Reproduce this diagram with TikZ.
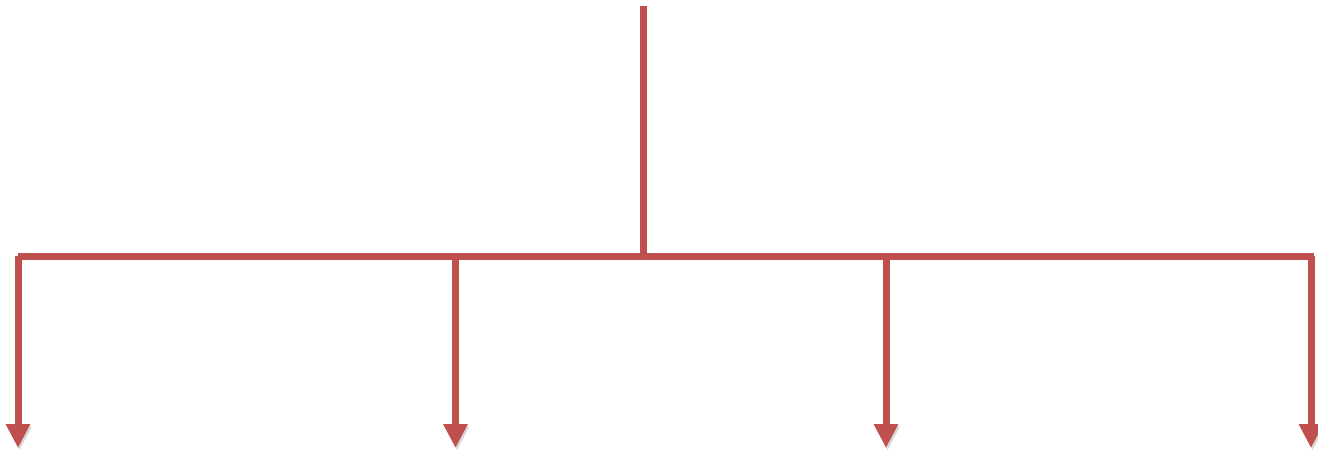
\documentclass[tikz,border=0pt]{standalone}
\usepackage{tikz}
\usetikzlibrary{arrows.meta, positioning, calc}

\definecolor{branchred}{RGB}{192,80,77}

\begin{document}
\begin{tikzpicture}[
      x=1pt, y=-1pt,
      shadowed/.style={preaction={draw=black!45, opacity=0.35,
                       transform canvas={shift={(1.5pt,-2.5pt)}}}},
      link/.style={draw=branchred, line width=7pt, shadowed},
      arr/.style={link, -{Triangle[length=24pt, width=23pt]}}
    ]
    \useasboundingbox (0,0) rectangle (1318,456);

    % trunk and the bar it feeds
    \coordinate (root)  at (643,6);
    \coordinate (hub)   at (643,256);
    \coordinate (barl)  at (18,256);
    \coordinate (barr)  at (1314,256);

    % where the branches leave the bar, and where they point
    \coordinate (b1) at (18,256);    \coordinate (t1) at (18,448);
    \coordinate (b2) at (455.5,256); \coordinate (t2) at (455.5,448);
    \coordinate (b3) at (886,256);   \coordinate (t3) at (886,448);
    \coordinate (b4) at (1311,256);  \coordinate (t4) at (1311,448);

    \draw[link] (barl) -- (barr);
    \draw[link] (root) -- (hub);
    \draw[arr] (b1) -- (t1);
    \draw[arr] (b2) -- (t2);
    \draw[arr] (b3) -- (t3);
    \draw[arr] (b4) -- (t4);
  \end{tikzpicture}
\end{document}
